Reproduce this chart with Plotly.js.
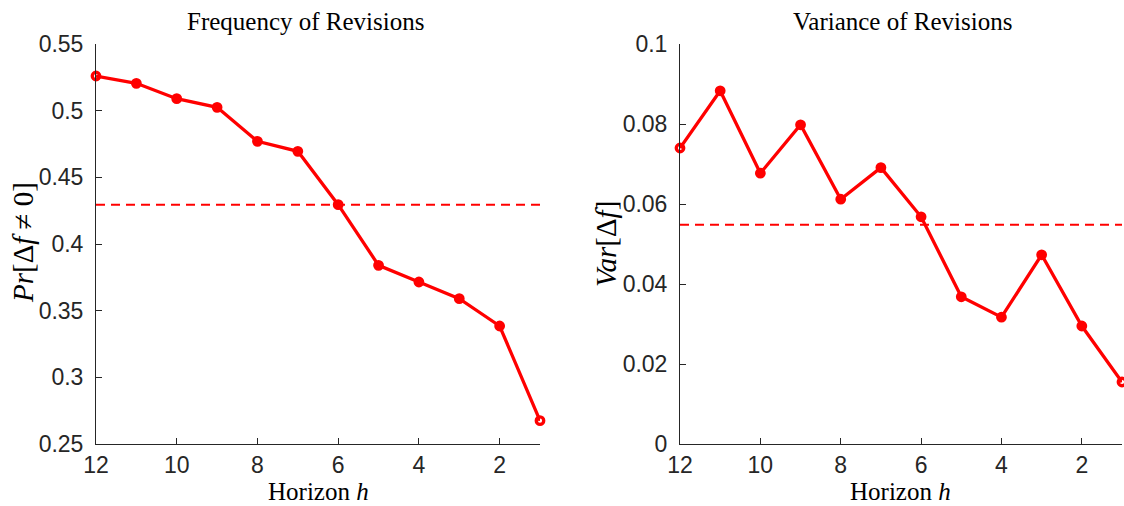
<!DOCTYPE html>
<html>
<head>
<meta charset="utf-8">
<script src="https://cdn.plot.ly/plotly-3.0.1.min.js"></script>
<style>html,body{margin:0;padding:0;background:#fff;}#chart{width:1124px;height:506px;}</style>
</head>
<body>
<div id="chart"></div>
<script>
const horizons = [12, 11, 10, 9, 8, 7, 6, 5, 4, 3, 2, 1];
const freqRevisions = [0.526, 0.5205, 0.509, 0.5025, 0.477, 0.4695, 0.4295, 0.384, 0.3715, 0.359, 0.3385, 0.2675];
const freqAverage = 0.4295;
const varRevisions = [0.074, 0.0883, 0.0677, 0.0798, 0.0612, 0.0691, 0.0568, 0.0368, 0.0317, 0.0473, 0.0295, 0.0155];
const varAverage = 0.0548;
const xTicks = [12, 10, 8, 6, 4, 2];
const freqTicks = [0.25, 0.3, 0.35, 0.4, 0.45, 0.5, 0.55];
const varTicks = [0, 0.02, 0.04, 0.06, 0.08, 0.1];

const RED = '#ff0000';
const AX = '#262626';
const W = 1124, H = 506;
const yDom = [(H - 444) / H, (H - 44) / H];
const symbols = horizons.map((h, i) => (i === 0 || i === horizons.length - 1) ? 'circle-open' : 'circle');

function lineTrace(y, xa, ya) {
  return {x: horizons, y: y, xaxis: xa, yaxis: ya, type: 'scatter', mode: 'lines+markers',
    cliponaxis: false,
    line: {color: RED, width: 3.3},
    marker: {symbol: symbols, size: 7.5, color: RED, line: {width: 3.3, color: RED}},
    hoverinfo: 'skip', showlegend: false};
}
function avgTrace(v, xa, ya) {
  return {x: [horizons[0], horizons[horizons.length - 1]], y: [v, v], xaxis: xa, yaxis: ya,
    type: 'scatter', mode: 'lines', line: {color: RED, width: 2, dash: '9px,6px'},
    hoverinfo: 'skip', showlegend: false};
}
const tickFont = {family: 'Liberation Sans, Arial, sans-serif', size: 23, color: AX};
function xAxis(dom, anchor) {
  return {domain: dom, anchor: anchor, range: [12, 1], tickvals: xTicks, ticktext: xTicks.map(String),
    showline: true, linecolor: AX, linewidth: 1, ticks: 'inside', ticklen: 6, tickcolor: AX,
    showgrid: false, zeroline: false, tickfont: tickFont, fixedrange: true, ticklabelstandoff: 0};
}
function yAxis(dom, anchor, range, ticks, fmt) {
  return {domain: dom, anchor: anchor, range: range, tickvals: ticks, ticktext: ticks.map(fmt),
    showline: true, linecolor: AX, linewidth: 1, ticks: 'inside', ticklen: 6, tickcolor: AX,
    showgrid: false, zeroline: false, tickfont: tickFont, fixedrange: true, ticklabelstandoff: 7};
}
const serif = {family: 'Liberation Serif, serif', size: 25, color: '#000'};
function ann(text, x, y, extra) {
  return Object.assign({text: text, x: x / W, y: 1 - y / H, xref: 'paper', yref: 'paper',
    xanchor: 'center', yanchor: 'middle', showarrow: false, font: serif}, extra || {});
}
const labelFont = Object.assign({}, serif, {size: 25});
const data = [
  avgTrace(freqAverage, 'x', 'y'),
  lineTrace(freqRevisions, 'x', 'y'),
  avgTrace(varAverage, 'x2', 'y2'),
  lineTrace(varRevisions, 'x2', 'y2')
];
const layout = {
  width: W, height: H, margin: {l: 0, r: 0, t: 0, b: 0},
  paper_bgcolor: '#fff', plot_bgcolor: '#fff',
  xaxis: xAxis([96 / W, 540 / W], 'y'),
  yaxis: yAxis(yDom, 'x', [0.25, 0.55], freqTicks, v => String(v)),
  xaxis2: xAxis([680 / W, 1122 / W], 'y2'),
  yaxis2: yAxis(yDom, 'x2', [0, 0.1], varTicks, v => String(v)),
  annotations: [
    ann('Frequency of Revisions', 305, 22),
    ann('Variance of Revisions', 902, 22),
    ann('Horizon <i>h</i>', 318, 491, {font: labelFont}),
    ann('Horizon <i>h</i>', 900, 491, {font: labelFont}),
    ann('<i>Pr</i>[Δ<i>f</i> ≠ 0]', 23, 243, {textangle: -90, font: Object.assign({}, serif, {size: 29})}),
    ann('<i>Var</i>[Δ<i>f</i>]', 606, 244, {textangle: -90, font: Object.assign({}, serif, {size: 29})})
  ]
};
Plotly.newPlot('chart', data, layout, {displayModeBar: false, staticPlot: true});
</script>
</body>
</html>
